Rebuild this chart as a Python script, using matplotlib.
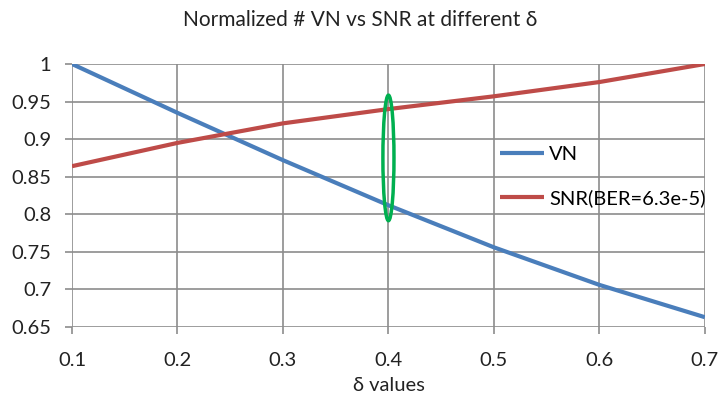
import matplotlib.pyplot as plt
from matplotlib.patches import Ellipse

delta = [0.1, 0.2, 0.3, 0.4, 0.5, 0.6, 0.7]
vn = [1.0, 0.935, 0.872, 0.812, 0.756, 0.706, 0.663]
snr = [0.864, 0.895, 0.921, 0.940, 0.957, 0.976, 1.0]

plt.rcParams['font.family'] = ['Lato', 'DejaVu Sans']

fig = plt.figure(figsize=(7.2, 3.99), dpi=100)
ax = fig.add_axes([0.1, 0.1805, 0.879, 0.6591])

ax.plot(delta, vn, color='#4A7EBB', lw=3, label='VN', solid_capstyle='butt')
ax.plot(delta, snr, color='#BE4B48', lw=3, label='SNR(BER=6.3e-5)', solid_capstyle='butt')

# highlight the two curves at delta = 0.4
ax.add_patch(Ellipse((0.4, 0.875), 0.0105, 0.167, fill=False,
                     edgecolor='#00B050', lw=2.5, zorder=5))

ax.set_xlim(0.1, 0.7)
ax.set_ylim(0.65, 1.0)
ax.set_xticks(delta)
ax.set_xticklabels(['0.1', '0.2', '0.3', '0.4', '0.5', '0.6', '0.7'])
yt = [0.65, 0.7, 0.75, 0.8, 0.85, 0.9, 0.95, 1.0]
ax.set_yticks(yt)
ax.set_yticklabels(['0.65', '0.7', '0.75', '0.8', '0.85', '0.9', '0.95', '1'])
ax.grid(True, color='#8C8C8C', lw=1.2)
ax.set_axisbelow(True)
for s in ax.spines.values():
    s.set_visible(False)
ax.tick_params(axis='both', length=5, width=1.2, color='#8C8C8C',
               labelsize=14.5, labelcolor='#222222')
ax.tick_params(axis='y', pad=10)
ax.tick_params(axis='x', pad=13)

ax.set_xlabel('δ values', fontsize=14.5, color='#222222', labelpad=6)
fig.suptitle('Normalized # VN vs SNR at different δ', fontsize=15,
             color='#222222', y=0.975)

ax.legend(loc='upper left', bbox_to_anchor=(0.676, 0.69),
          frameon=False, fontsize=14.5, handlelength=2.2, handletextpad=0.25,
          labelspacing=1.3, borderpad=0, borderaxespad=0)

fig.savefig('out.png', dpi=100)
